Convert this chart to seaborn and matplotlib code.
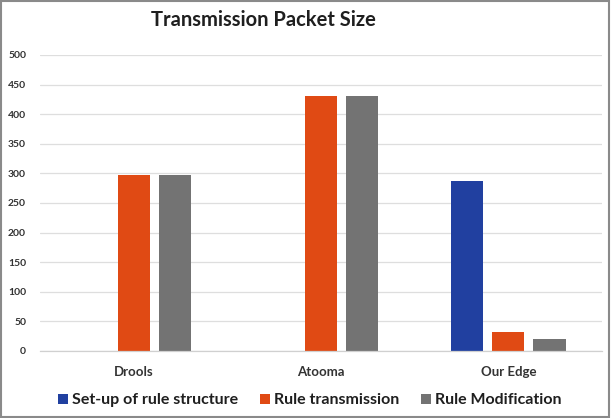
import matplotlib
matplotlib.use("Agg")
import matplotlib.pyplot as plt
import seaborn as sns
import pandas as pd
from matplotlib.patches import Rectangle
from matplotlib.lines import Line2D

categories = ["Drools", "Atooma", "Our Edge"]
series_names = ["Set-up of rule structure", "Rule transmission", "Rule Modification"]
setup_values = [0, 0, 287]
transmission_values = [298, 430, 32]
modification_values = [298, 430, 20]
y_ticks = [0, 50, 100, 150, 200, 250, 300, 350, 400, 450, 500]
title = "Transmission Packet Size"

colors = ["#2140A0", "#E04A14", "#737373"]

rows = []
for s, vals in zip(series_names, [setup_values, transmission_values, modification_values]):
    for c, v in zip(categories, vals):
        rows.append({"category": c, "series": s, "value": v})
df = pd.DataFrame(rows)

sns.set_theme(style="white")
plt.rcParams["font.family"] = ["Lato", "DejaVu Sans"]

fig = plt.figure(figsize=(6.12, 4.18), dpi=100)
ax = fig.add_axes([40/612, (418-351)/418, (602-40)/612, (351-55)/418])

sns.barplot(data=df, x="category", y="value", hue="series", order=categories,
            hue_order=series_names, palette=colors, width=0.66, gap=0.22,
            linewidth=0, saturation=1, ax=ax, legend=False)

ax.set_ylim(0, 500)
ax.set_xlim(-0.5, 2.5)
ax.set_yticks(y_ticks)
ax.set_yticklabels([str(t) for t in y_ticks], fontsize=7.5, color="#333333", fontweight="bold")
ax.set_xticks(range(len(categories)))
ax.set_xticklabels(categories, fontsize=9.5, color="#333333", fontweight="bold")
ax.tick_params(axis="y", length=0, pad=10)
ax.tick_params(axis="x", length=0, pad=11)
ax.set_xlabel("")
ax.set_ylabel("")
ax.yaxis.grid(True, color="#dedede", linewidth=0.9)
ax.set_axisbelow(True)
for side in ["top", "right", "left"]:
    ax.spines[side].set_visible(False)
ax.spines["bottom"].set_color("#d0d0d0")
ax.spines["bottom"].set_linewidth(0.9)

fig.text(263/612, 1 - 20/418, title, ha="center", va="center",
         fontsize=14.5, fontweight="bold", color="#1f1f1f")

handles = [Line2D([0], [0], marker="s", linestyle="none", markersize=7,
                  markerfacecolor=c, markeredgewidth=0) for c in colors]
fig.legend(handles, series_names, loc="center", bbox_to_anchor=(308/612, 1 - 400/418),
           ncol=3, frameon=False, prop={"size": 11.5, "weight": "bold"},
           labelcolor="#1f1f1f", handletextpad=0.05, columnspacing=1.2, handlelength=1.0)

fig.patches.append(Rectangle((0.002, 0.002), 0.993, 0.995, transform=fig.transFigure,
                             fill=False, edgecolor="#8a8a8a", linewidth=1.5))

fig.savefig("out.png", dpi=100)
